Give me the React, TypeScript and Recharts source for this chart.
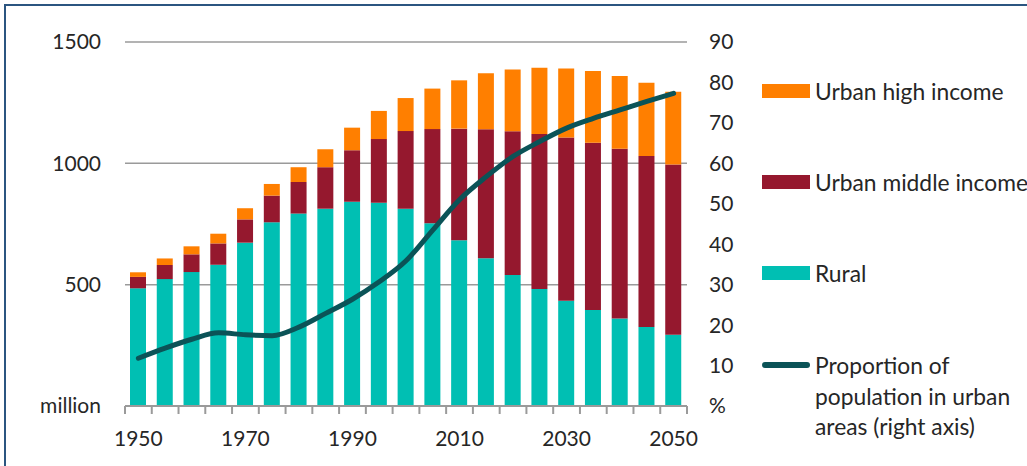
import { ComposedChart, Bar, Line, XAxis, YAxis, CartesianGrid } from 'recharts';

const years = ['1950', '1955', '1960', '1965', '1970', '1975', '1980', '1985', '1990', '1995', '2000',
    '2005', '2010', '2015', '2020', '2025', '2030', '2035', '2040', '2045', '2050'];

// millions of people
const rural = [485, 523, 552, 582, 673, 757, 793, 813, 842, 838, 813, 753, 683, 609, 540, 482, 434, 396, 361, 326, 294];
const urbanMiddle = [47, 58, 73, 88, 96, 110, 130, 171, 212, 262, 320, 388, 460, 531, 592, 639, 672, 689, 699, 704, 701];
const urbanHigh = [19, 27, 33, 40, 46, 48, 61, 74, 93, 116, 136, 167, 199, 231, 255, 273, 285, 295, 300, 302, 300];

// % of population in urban areas (right axis)
const urbanShare = [11.8, 14.3, 16.5, 18.1, 17.6, 17.4, 19.5, 22.9, 26.4, 30.7, 35.9, 43.5, 51, 56.7, 61.7, 65.4,
    68.7, 71.1, 73.2, 75.3, 77.3];

const leftTicks = [0, 500, 1000, 1500];
const rightTicks = [0, 10, 20, 30, 40, 50, 60, 70, 80, 90];

const data = years.map((year, i) => ({
    year,
    rural: rural[i],
    middle: urbanMiddle[i],
    high: urbanHigh[i],
    share: urbanShare[i],
}));

const W = 1027;
const H = 466;
const margin = { top: 42, right: 300, bottom: 0, left: 0 };
const leftAxisW = 125;
const rightAxisW = 40;
const plotW = W - margin.left - margin.right - leftAxisW - rightAxisW;
const halfBand = plotW / years.length / 2;

const font = 'Lato, "Noto Sans", sans-serif';
const textColor = '#262626';
const axisGrey = '#9a9a9a';

function YearTick(props: any) {
    const { x, y, index } = props;
    const last = index === years.length - 1;
    return (
        <g>
            <line x1={x - halfBand} x2={x - halfBand} y1={y} y2={y + 8} stroke={axisGrey} strokeWidth={2} />
            {last && <line x1={x + halfBand} x2={x + halfBand} y1={y} y2={y + 8} stroke={axisGrey} strokeWidth={2} />}
            {index % 4 === 0 && (
                <text x={x} y={y + 31} textAnchor="middle" dominantBaseline="central"
                    fontFamily={font} fontSize={21} fill={textColor}>
                    {props.payload.value}
                </text>
            )}
        </g>
    );
}

const legendItems = [
    { label: ['Urban high income'], color: '#FF7F00', top: 91, line: false },
    { label: ['Urban middle income'], color: '#95182E', top: 182, line: false },
    { label: ['Rural'], color: '#00BFB3', top: 273, line: false },
    { label: ['Proportion of', 'population in urban', 'areas (right axis)'], color: '#0B5357', top: 365, line: true },
];

function ChartLegend() {
    return (
        <div>
            {legendItems.map((item) => (
                <div key={item.label[0]}>
                    <div style={{
                        position: 'absolute', left: 762, width: 48,
                        top: item.line ? item.top - 3 : item.top - 7,
                        height: item.line ? 6 : 14,
                        borderRadius: item.line ? 3 : 0,
                        background: item.color,
                    }} />
                    {item.label.map((t, j) => (
                        <div key={t} style={{
                            position: 'absolute', left: 815, top: item.top - 15 + j * 30.5,
                            height: 30, lineHeight: '30px', whiteSpace: 'nowrap',
                            fontFamily: font, fontSize: 22.8, color: textColor,
                        }}>{t}</div>
                    ))}
                </div>
            ))}
        </div>
    );
}

export default function App() {
    return (
        <div style={{ position: 'absolute', left: 0, top: 0, width: W, height: H, background: '#fff', overflow: 'hidden' }}>
            <ComposedChart width={W} height={H} data={data} margin={margin}>
                <CartesianGrid yAxisId="left" vertical={false} stroke={axisGrey} strokeWidth={1.5} />
                <XAxis dataKey="year" height={60} interval={0} tickSize={0} tickMargin={0}
                    tickLine={false} axisLine={{ stroke: axisGrey, strokeWidth: 2 }} tick={<YearTick />} />
                <YAxis yAxisId="left" width={leftAxisW} domain={[0, 1500]} ticks={leftTicks}
                    axisLine={false} tickLine={false} tickSize={0} tickMargin={24}
                    tickFormatter={(v: number) => (v === 0 ? 'million' : String(v))}
                    tick={{ fontFamily: font, fontSize: 21, fill: textColor }} />
                <YAxis yAxisId="right" orientation="right" width={rightAxisW} domain={[0, 90]} ticks={rightTicks}
                    axisLine={false} tickLine={false} tickSize={0} tickMargin={22}
                    tickFormatter={(v: number) => (v === 0 ? '%' : String(v))}
                    tick={{ fontFamily: font, fontSize: 21, fill: textColor }} />
                <Bar yAxisId="left" dataKey="rural" stackId="pop" barSize={16} fill="#00BFB3" isAnimationActive={false} />
                <Bar yAxisId="left" dataKey="middle" stackId="pop" barSize={16} fill="#95182E" isAnimationActive={false} />
                <Bar yAxisId="left" dataKey="high" stackId="pop" barSize={16} fill="#FF7F00" isAnimationActive={false} />
                <Line yAxisId="right" dataKey="share" type="monotone" stroke="#0B5357" strokeWidth={5}
                    strokeLinecap="round" dot={false} activeDot={false} isAnimationActive={false} />
            </ComposedChart>
            <ChartLegend />
            <div style={{ position: 'absolute', left: 4, top: 4, width: W, height: 2, background: '#2B5580' }} />
            <div style={{ position: 'absolute', left: 4, top: 4, width: 2, height: H, background: '#2B5580' }} />
        </div>
    );
}
